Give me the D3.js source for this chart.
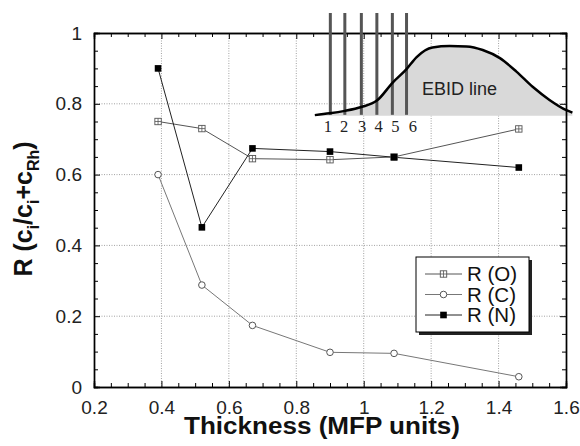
<!DOCTYPE html>
<html>
<head>
<meta charset="utf-8">
<script src="https://cdn.jsdelivr.net/npm/d3@7"></script>
<style>
  body { margin: 0; background: #fff; }
  svg { display: block; font-family: "Liberation Sans", Arial, Helvetica, sans-serif; }
  .grid line { stroke: #8a8a8a; stroke-width: 0.8; stroke-dasharray: 1,1.5; }
  .tick text { fill: #222; }
</style>
</head>
<body>
<script>
// measured series
var thickness = [0.39, 0.52, 0.67, 0.9, 1.09, 1.46];
var rO = [0.75, 0.73, 0.645, 0.642, 0.65, 0.729];
var rC = [0.6, 0.288, 0.174, 0.098, 0.095, 0.029];
var rN = [0.9, 0.451, 0.674, 0.665, 0.649, 0.62];

var xTicks = [0.2, 0.4, 0.6, 0.8, 1, 1.2, 1.4, 1.6];
var yTicks = [0, 0.2, 0.4, 0.6, 0.8, 1];

// EBID inset sketch, given in chart units
var ebidX = [0.855, 0.899, 0.944, 0.993, 1.039, 1.086, 1.127, 1.157, 1.204, 1.255, 1.305, 1.353, 1.404, 1.453, 1.501, 1.551, 1.601, 1.619];
var ebidY = [0.768, 0.773, 0.780, 0.791, 0.809, 0.860, 0.898, 0.932, 0.959, 0.963, 0.962, 0.952, 0.929, 0.891, 0.848, 0.811, 0.782, 0.775];
var ebidBase = 0.766;
var scanX = [0.901, 0.944, 0.993, 1.039, 1.085, 1.127];
var scanLabelX = [0.894, 0.942, 0.995, 1.044, 1.094, 1.146];
var scanLabels = ["1", "2", "3", "4", "5", "6"];

var width = 580, height = 446;
var margin = {top: 33, right: 14, bottom: 59, left: 94};
var w = width - margin.left - margin.right,
    h = height - margin.top - margin.bottom;

var svg = d3.select("body").append("svg")
    .attr("width", width)
    .attr("height", height);

var g = svg.append("g")
    .attr("transform", "translate(" + margin.left + "," + margin.top + ")");

var x = d3.scaleLinear().domain([0.2, 1.6]).range([0, w]);
var y = d3.scaleLinear().domain([0, 1]).range([h, 0]);

// dotted grid
g.append("g").attr("class", "grid")
    .selectAll("line").data(xTicks.slice(1, -1)).enter().append("line")
    .attr("x1", d => x(d)).attr("x2", d => x(d))
    .attr("y1", 0).attr("y2", h);
g.append("g").attr("class", "grid")
    .selectAll("line").data(yTicks.slice(1, -1)).enter().append("line")
    .attr("y1", d => y(d)).attr("y2", d => y(d))
    .attr("x1", 0).attr("x2", w);

// inset: filled EBID profile
var prof = ebidX.map((d, i) => [d, ebidY[i]]);
var area = d3.area()
    .x(d => x(d[0]))
    .y0(y(ebidBase))
    .y1(d => y(d[1]))
    .curve(d3.curveMonotoneX);
g.append("path")
    .datum(prof)
    .attr("fill", "#d9d9d9")
    .attr("d", area);

// axes with inward ticks
var minorX = d3.range(0.2, 1.6001, 0.05).filter(v => Math.abs(v * 5 - Math.round(v * 5)) > 1e-6);
var minorY = d3.range(0, 1.0001, 0.05).filter(v => Math.abs(v * 5 - Math.round(v * 5)) > 1e-6);
var fmt = d3.format("~g");

function styleAxis(sel) {
  sel.select(".domain").attr("stroke", "#000").attr("stroke-width", 1.4);
  sel.selectAll(".tick line").attr("stroke", "#000").attr("stroke-width", 1);
}

g.append("g").attr("transform", "translate(0," + h + ")")
    .call(d3.axisBottom(x).tickValues(xTicks).tickSize(-6).tickPadding(14).tickFormat(fmt))
    .call(styleAxis)
    .call(s => s.selectAll("text").attr("font-size", 19).attr("font-family", "Liberation Sans, Arial, sans-serif"));
g.append("g").attr("transform", "translate(0," + h + ")")
    .call(d3.axisBottom(x).tickValues(minorX).tickSize(-4).tickFormat(""))
    .call(styleAxis);
g.append("g")
    .call(d3.axisTop(x).tickValues(xTicks).tickSize(-6).tickFormat(""))
    .call(styleAxis);
g.append("g")
    .call(d3.axisTop(x).tickValues(minorX).tickSize(-4).tickFormat(""))
    .call(styleAxis);
g.append("g")
    .call(d3.axisLeft(y).tickValues(yTicks).tickSize(-6).tickPadding(12).tickFormat(fmt))
    .call(styleAxis)
    .call(s => s.selectAll("text").attr("font-size", 19).attr("font-family", "Liberation Sans, Arial, sans-serif"));
g.append("g")
    .call(d3.axisLeft(y).tickValues(minorY).tickSize(-4).tickFormat(""))
    .call(styleAxis);
g.append("g").attr("transform", "translate(" + w + ",0)")
    .call(d3.axisRight(y).tickValues(yTicks).tickSize(-6).tickFormat(""))
    .call(styleAxis);
g.append("g").attr("transform", "translate(" + w + ",0)")
    .call(d3.axisRight(y).tickValues(minorY).tickSize(-4).tickFormat(""))
    .call(styleAxis);

// inset: scan lines, profile outline, labels
g.selectAll(".scan").data(scanX).enter().append("line")
    .attr("class", "scan")
    .attr("x1", d => x(d)).attr("x2", d => x(d))
    .attr("y1", -20).attr("y2", y(ebidBase) - 1)
    .attr("stroke", "#555").attr("stroke-width", 3);

g.append("path")
    .datum(prof)
    .attr("fill", "none")
    .attr("stroke", "#000")
    .attr("stroke-width", 2.5)
    .attr("d", d3.line().x(d => x(d[0])).y(d => y(d[1])).curve(d3.curveMonotoneX));

g.selectAll(".scanlab").data(scanLabels).enter().append("text")
    .attr("class", "scanlab")
    .attr("x", (d, i) => x(scanLabelX[i]))
    .attr("y", y(ebidBase) + 16)
    .attr("text-anchor", "middle")
    .attr("font-family", "Liberation Serif, Times New Roman, serif")
    .attr("font-size", 16.5)
    .attr("fill", "#222")
    .text(d => d);

g.append("text")
    .attr("x", x(1.284))
    .attr("y", y(0.825))
    .attr("text-anchor", "middle")
    .attr("font-size", 18)
    .attr("fill", "#222")
    .text("EBID line");

// series
var series = [
  {name: "R (O)", vals: rO, stroke: "#555", sym: "cross"},
  {name: "R (C)", vals: rC, stroke: "#777", sym: "circle"},
  {name: "R (N)", vals: rN, stroke: "#222", sym: "filled"}
];

function drawMarker(sel, sym) {
  if (sym === "circle") {
    sel.append("circle").attr("r", 3.3)
        .attr("fill", "#fff").attr("stroke", "#555").attr("stroke-width", 1);
  } else if (sym === "filled") {
    sel.append("rect").attr("x", -3.3).attr("y", -3.3).attr("width", 6.6).attr("height", 6.6)
        .attr("fill", "#000");
  } else {
    sel.append("rect").attr("x", -3.2).attr("y", -3.2).attr("width", 6.4).attr("height", 6.4)
        .attr("fill", "#fff").attr("stroke", "#555").attr("stroke-width", 0.9);
    sel.append("path").attr("d", "M-3.2,0H3.2M0,-3.2V3.2")
        .attr("stroke", "#555").attr("stroke-width", 0.8);
  }
}

var line = d3.line().x(d => x(d[0])).y(d => y(d[1]));

series.forEach(function(s) {
  var pts = thickness.map((t, i) => [t, s.vals[i]]);
  g.append("path").datum(pts)
      .attr("fill", "none")
      .attr("stroke", s.stroke)
      .attr("stroke-width", 1)
      .attr("d", line);
});
series.forEach(function(s) {
  var pts = thickness.map((t, i) => [t, s.vals[i]]);
  g.selectAll(null).data(pts).enter().append("g")
      .attr("transform", d => "translate(" + x(d[0]) + "," + y(d[1]) + ")")
      .each(function() { drawMarker(d3.select(this), s.sym); });
});

// legend
var lg = svg.append("g").attr("transform", "translate(416,257)");
lg.append("rect").attr("x", 3).attr("y", 3).attr("width", 113).attr("height", 75).attr("fill", "#222");
lg.append("rect").attr("width", 113).attr("height", 75)
    .attr("fill", "#fff").attr("stroke", "#000").attr("stroke-width", 1);
series.forEach(function(s, i) {
  var row = lg.append("g").attr("transform", "translate(0," + (17 + i * 20.5) + ")");
  row.append("line").attr("x1", 9).attr("x2", 46)
      .attr("stroke", s.stroke).attr("stroke-width", 1);
  var m = row.append("g").attr("transform", "translate(27.5,0)");
  drawMarker(m, s.sym);
  row.append("text").attr("x", 51).attr("y", 7)
      .attr("font-size", 20.5).attr("fill", "#111")
      .text(s.name);
});

// axis titles
svg.append("text")
    .attr("x", 322)
    .attr("y", 434)
    .attr("text-anchor", "middle")
    .attr("font-size", 23.5)
    .attr("font-weight", "bold")
    .attr("fill", "#111")
    .attr("textLength", 276)
    .attr("lengthAdjust", "spacingAndGlyphs")
    .text("Thickness (MFP units)");

var yt = svg.append("text")
    .attr("transform", "translate(32,209) rotate(-90)")
    .attr("text-anchor", "middle")
    .attr("font-size", 25)
    .attr("font-weight", "bold")
    .attr("fill", "#111");
yt.append("tspan").text("R (c");
yt.append("tspan").attr("font-size", 16).attr("dy", 7).text("i");
yt.append("tspan").attr("dy", -7).text("/c");
yt.append("tspan").attr("font-size", 16).attr("dy", 7).text("i");
yt.append("tspan").attr("dy", -7).text("+c");
yt.append("tspan").attr("font-size", 16).attr("dy", 7).text("Rh");
yt.append("tspan").attr("dy", -7).text(")");
</script>
</body>
</html>
